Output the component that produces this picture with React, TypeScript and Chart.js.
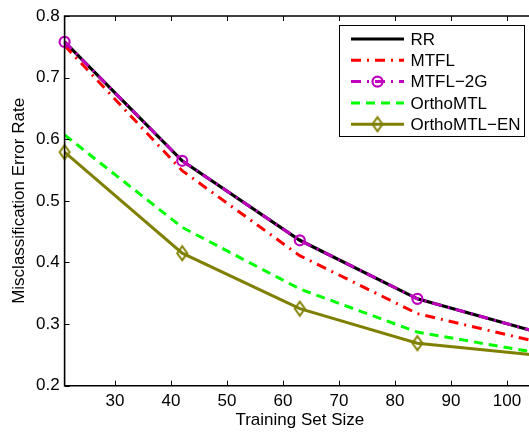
import React, { useEffect, useRef } from "react";
import { Chart, registerables } from "chart.js";

Chart.register(...registerables);

const trainingSizes = [21, 42, 63, 84, 105];
const rrValues = [0.758, 0.565, 0.436, 0.341, 0.288];
const mtflValues = [0.752, 0.549, 0.411, 0.317, 0.272];
const mtfl2gValues = [0.758, 0.565, 0.436, 0.341, 0.288];
const orthoMtlValues = [0.607, 0.457, 0.357, 0.287, 0.254];
const orthoMtlEnValues = [0.579, 0.415, 0.325, 0.269, 0.25];
const seriesNames = ["RR", "MTFL", "MTFL\u22122G", "OrthoMTL", "OrthoMTL\u2212EN"];
const xTickValues = [30, 40, 50, 60, 70, 80, 90, 100];
const yTickValues = [0.2, 0.3, 0.4, 0.5, 0.6, 0.7, 0.8];
const xTitle = "Training Set Size";
const yTitle = "Misclassification Error Rate";

const FONT = "'Liberation Sans', Arial, Helvetica, sans-serif";
const OLIVE = "#808000";
const MAGENTA = "#bf00bf";

function makeDiamond(): HTMLCanvasElement {
  const c = document.createElement("canvas");
  c.width = 14;
  c.height = 18;
  const ctx = c.getContext("2d")!;
  ctx.strokeStyle = OLIVE;
  ctx.lineWidth = 2;
  ctx.beginPath();
  ctx.moveTo(7, 2);
  ctx.lineTo(12, 9);
  ctx.lineTo(7, 16);
  ctx.lineTo(2, 9);
  ctx.closePath();
  ctx.stroke();
  return c;
}

const framePlugin = {
  id: "matlabFrame",
  afterDraw(chart: any) {
    const ctx = chart.ctx as CanvasRenderingContext2D;
    const { left, right, top, bottom } = chart.chartArea;
    const xs = chart.scales.x;
    const ys = chart.scales.y;
    ctx.save();
    ctx.strokeStyle = "#000";
    ctx.lineWidth = 1;
    ctx.beginPath();
    xTickValues.forEach((v) => {
      const px = Math.round(xs.getPixelForValue(v)) + 0.5;
      ctx.moveTo(px, bottom);
      ctx.lineTo(px, bottom - 5);
      ctx.moveTo(px, top);
      ctx.lineTo(px, top + 5);
    });
    yTickValues.forEach((v) => {
      const py = Math.round(ys.getPixelForValue(v)) + 0.5;
      ctx.moveTo(left, py);
      ctx.lineTo(left + 5, py);
      ctx.moveTo(right, py);
      ctx.lineTo(right - 5, py);
    });
    ctx.stroke();
    ctx.lineWidth = 1.6;
    ctx.beginPath();
    ctx.rect(left, top, right - left, bottom - top);
    ctx.stroke();

    const lx0 = 339.5, ly0 = 25.5, lx1 = 524.5, ly1 = 136.5;
    ctx.fillStyle = "#fff";
    ctx.fillRect(lx0, ly0, lx1 - lx0, ly1 - ly0);
    ctx.lineWidth = 1;
    ctx.strokeStyle = "#000";
    ctx.strokeRect(lx0, ly0, lx1 - lx0, ly1 - ly0);
    const datasets = chart.data.datasets;
    const sx0 = 351, sx1 = 404, tx = 410.5;
    seriesNames.forEach((name, i) => {
      const ds = datasets[i];
      const y = 39 + i * 21.3;
      ctx.save();
      ctx.strokeStyle = ds.borderColor;
      ctx.lineWidth = ds.borderWidth;
      ctx.setLineDash(ds.borderDash || []);
      ctx.beginPath();
      ctx.moveTo(sx0, y);
      ctx.lineTo(sx1, y);
      ctx.stroke();
      ctx.restore();
      const cx = (sx0 + sx1) / 2;
      if (ds.pointStyle === "circle" && ds.pointRadius > 0) {
        ctx.save();
        ctx.strokeStyle = ds.pointBorderColor;
        ctx.lineWidth = ds.pointBorderWidth;
        ctx.beginPath();
        ctx.arc(cx, y, ds.pointRadius, 0, Math.PI * 2);
        ctx.stroke();
        ctx.restore();
      } else if (ds.pointStyle instanceof HTMLCanvasElement) {
        const img = ds.pointStyle as HTMLCanvasElement;
        ctx.drawImage(img, cx - img.width / 2, y - img.height / 2);
      }
      ctx.fillStyle = "#000";
      ctx.font = `17px ${FONT}`;
      ctx.textBaseline = "middle";
      ctx.textAlign = "left";
      ctx.fillText(name, tx, y + 1);
    });
    ctx.restore();
  },
};

export default function App() {
  const canvasRef = useRef<HTMLCanvasElement | null>(null);

  useEffect(() => {
    const canvas = canvasRef.current;
    if (!canvas) return;
    const diamond = makeDiamond();
    const toPts = (vals: number[]) => trainingSizes.map((x, i) => ({ x, y: vals[i] }));
    const tickFont = { family: FONT, size: 17 };
    const chart = new Chart(canvas, {
      type: "line",
      data: {
        datasets: [
          {
            label: seriesNames[0],
            data: toPts(rrValues),
            borderColor: "#000000",
            borderWidth: 3.2,
            pointRadius: 0,
            order: 5,
            clip: false,
          },
          {
            label: seriesNames[1],
            data: toPts(mtflValues),
            borderColor: "#ff0000",
            borderWidth: 3,
            borderDash: [10, 6, 2, 6],
            pointRadius: 0,
            order: 4,
            clip: false,
          },
          {
            label: seriesNames[2],
            data: toPts(mtfl2gValues),
            borderColor: MAGENTA,
            borderWidth: 3,
            borderDash: [10, 6, 2, 6],
            pointStyle: "circle",
            pointRadius: 5,
            pointBorderWidth: 2.2,
            pointBorderColor: MAGENTA,
            pointBackgroundColor: "rgba(0,0,0,0)",
            order: 3,
            clip: false,
          },
          {
            label: seriesNames[3],
            data: toPts(orthoMtlValues),
            borderColor: "#00ff00",
            borderWidth: 3,
            borderDash: [9, 6],
            pointRadius: 0,
            order: 2,
            clip: false,
          },
          {
            label: seriesNames[4],
            data: toPts(orthoMtlEnValues),
            borderColor: OLIVE,
            borderWidth: 3,
            pointStyle: diamond as any,
            pointRadius: 7,
            order: 1,
            clip: false,
          },
        ] as any,
      },
      options: {
        responsive: false,
        animation: false,
        events: [],
        layout: { autoPadding: false, padding: { left: 0, top: 16, right: 5, bottom: 0 } },
        plugins: { legend: { display: false }, tooltip: { enabled: false } },
        elements: { line: { tension: 0, borderCapStyle: "butt" } },
        scales: {
          x: {
            type: "linear",
            min: 21,
            max: 105,
            afterBuildTicks: (s: any) => {
              s.ticks = xTickValues.map((v) => ({ value: v }));
            },
            afterFit: (s: any) => {
              s.height = 46.3;
              s.paddingLeft = 0;
              s.paddingRight = 0;
            },
            grid: { display: false, drawTicks: false },
            border: { display: false },
            ticks: {
              font: tickFont,
              color: "#000",
              padding: 5,
              maxRotation: 0,
              autoSkip: false,
              callback: (v: any) => String(v),
            },
            title: {
              display: true,
              text: xTitle,
              font: tickFont,
              color: "#000",
              padding: { top: 0, bottom: 1 },
            },
          },
          y: {
            type: "linear",
            min: 0.2,
            max: 0.8,
            afterBuildTicks: (s: any) => {
              s.ticks = yTickValues.map((v) => ({ value: v }));
            },
            afterFit: (s: any) => {
              s.width = 64.6;
              s.paddingTop = 0;
              s.paddingBottom = 0;
            },
            grid: { display: false, drawTicks: false },
            border: { display: false },
            ticks: {
              font: tickFont,
              color: "#000",
              padding: 5,
              autoSkip: false,
              callback: (v: any) => Number(v).toFixed(1),
            },
            title: {
              display: true,
              text: yTitle,
              font: tickFont,
              color: "#000",
              padding: { top: 9, bottom: 0 },
            },
          },
        },
      } as any,
      plugins: [framePlugin],
    });
    return () => chart.destroy();
  }, []);

  return (
    <div
      style={{
        position: "fixed",
        left: 0,
        top: 0,
        width: 529,
        height: 432,
        overflow: "hidden",
        background: "#fff",
      }}
    >
      <canvas ref={canvasRef} width={540} height={432} style={{ display: "block" }} />
    </div>
  );
}
